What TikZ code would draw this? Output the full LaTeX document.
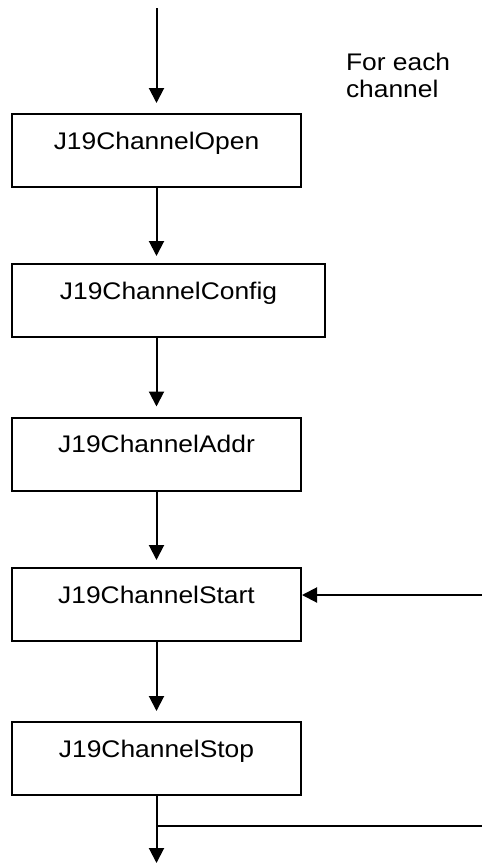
\documentclass[tikz,border=0pt]{standalone}
\usepackage{fontspec}
\setmainfont[FakeStretch=1.1]{Liberation Sans}
\usetikzlibrary{arrows.meta}
\tikzstyle{func} = [draw, rectangle, line width=2pt, minimum width=289pt,
inner sep=0pt, text height=35pt, text depth=38pt]

\begin{document}
\begin{tikzpicture}[x=1pt, y=-1pt, line width=2pt,
                    >={Triangle[length=15pt, width=15pt]},
                    font=\fontsize{24}{27}\selectfont]
                    \useasboundingbox (0,0) rectangle (482,863);
                    \node[func] (open) at (156.5, 150.5) {J19ChannelOpen};
                    \node[func, minimum width=313pt] (config) at (168.5, 300.5) {J19ChannelConfig};
                    \node[func] (addr) at (156.5, 454) {J19ChannelAddr};
                    \node[func] (start) at (156.5, 604.5) {J19ChannelStart};
                    \node[func] (stop) at (156.5, 758.5) {J19ChannelStop};
                    \node[anchor=north west, align=left, inner sep=0pt] (each) at (345, 52) {For each\\channel};
                    \coordinate (top) at (156.5, 8);
                    \coordinate (in) at (482, 595);
                    \coordinate (loop) at (482, 826);
                    \coordinate (out) at (156.5, 863);
                    \draw[->, shorten >=10pt] (top)--(open);
                    \draw[->, shorten >=7pt] (open.south)--(open.south |- config.north);
                    \draw[->, shorten >=10pt] (config.south -| addr.north)--(addr.north);
                    \draw[->, shorten >=7pt] (addr)--(start);
                    \draw[->, shorten >=10pt] (start)--(stop);
                    \draw[->] (in)--(in -| start.east);
                    \draw[line width=1.3pt] (loop -| stop.south)--(loop);
                    \draw[->] (stop)--(out);
                \end{tikzpicture}
\end{document}
